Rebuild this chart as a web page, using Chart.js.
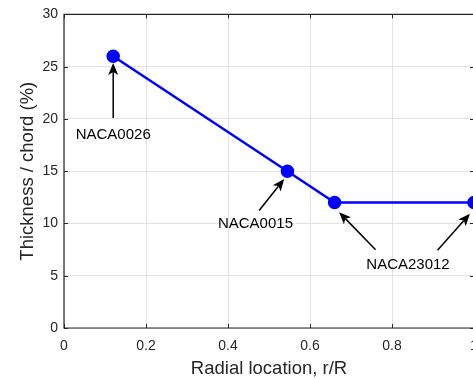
<!DOCTYPE html>
<html>
<head>
<meta charset="utf-8">
<script src="https://cdn.jsdelivr.net/npm/chart.js@4/dist/chart.umd.min.js"></script>
<style>
  html, body { margin: 0; padding: 0; background: #fff; overflow: hidden; }
  #wrap { width: 490px; height: 380px; }
</style>
</head>
<body>
<div id="wrap"><canvas id="chart" width="490" height="380"></canvas></div>
<script>
// data
const radialLocation = [0.12, 0.545, 0.66, 1.0];
const thickness = [26, 15, 12, 12];
const xTicks = [0, 0.2, 0.4, 0.6, 0.8, 1];
const yTicks = [0, 5, 10, 15, 20, 25, 30];

// annotation labels (data coordinates)
const labelText = ["NACA0026", "NACA0015", "NACA23012"];
const labelX = [0.12, 0.467, 0.839];
const labelY = [18.1, 9.52, 5.62];

// arrows: tail -> head (data coordinates)
const arrowFromX = [0.12, 0.476, 0.760, 0.911];
const arrowFromY = [20.1, 11.24, 7.49, 7.43];
const arrowToX = [0.12, 0.537, 0.671, 0.990];
const arrowToY = [25.36, 14.26, 11.08, 10.92];

const axisColor = "#262626";
const gridColor = "#e3e3e3";
const fontFamily = "'Liberation Sans', Arial, sans-serif";

function drawArrow(ctx, x1, y1, x2, y2) {
  const ang = Math.atan2(y2 - y1, x2 - x1);
  const len = 12, half = 5, back = 3;
  const c = Math.cos(ang), s = Math.sin(ang);
  const bx = x2 - len * c, by = y2 - len * s;
  const nx = x2 - (len - back) * c, ny = y2 - (len - back) * s;
  ctx.beginPath();
  ctx.moveTo(x1, y1);
  ctx.lineTo(nx, ny);
  ctx.stroke();
  ctx.beginPath();
  ctx.moveTo(x2, y2);
  ctx.lineTo(bx - half * s, by + half * c);
  ctx.lineTo(nx, ny);
  ctx.lineTo(bx + half * s, by - half * c);
  ctx.closePath();
  ctx.fill();
}

const boxPlugin = {
  id: "box",
  afterDatasetsDraw(chart) {
    const { ctx, chartArea: a, scales } = chart;
    const xs = scales.x, ys = scales.y;
    ctx.save();
    // axes box
    ctx.strokeStyle = axisColor;
    ctx.lineWidth = 1.2;
    ctx.beginPath();
    ctx.rect(a.left, a.top, a.right - a.left, a.bottom - a.top);
    ctx.stroke();
    // inward ticks
    ctx.lineWidth = 1;
    ctx.beginPath();
    xTicks.forEach(v => {
      const px = Math.round(xs.getPixelForValue(v)) + 0.5;
      ctx.moveTo(px, a.bottom); ctx.lineTo(px, a.bottom - 4);
      ctx.moveTo(px, a.top); ctx.lineTo(px, a.top + 4);
    });
    yTicks.forEach(v => {
      const py = Math.round(ys.getPixelForValue(v)) + 0.5;
      ctx.moveTo(a.left, py); ctx.lineTo(a.left + 4, py);
      ctx.moveTo(a.right, py); ctx.lineTo(a.right - 4, py);
    });
    ctx.stroke();

    // arrows
    ctx.strokeStyle = "#000";
    ctx.fillStyle = "#000";
    ctx.lineWidth = 1.5;
    arrowFromX.forEach((v, i) => {
      drawArrow(ctx,
        xs.getPixelForValue(v), ys.getPixelForValue(arrowFromY[i]),
        xs.getPixelForValue(arrowToX[i]), ys.getPixelForValue(arrowToY[i]));
    });

    // labels
    ctx.font = "15px " + fontFamily;
    ctx.textAlign = "center";
    ctx.textBaseline = "alphabetic";
    ctx.fillStyle = "#000";
    labelText.forEach((t, i) => {
      ctx.fillText(t, xs.getPixelForValue(labelX[i]), ys.getPixelForValue(labelY[i]));
    });
    ctx.restore();
  }
};

new Chart(document.getElementById("chart"), {
  type: "scatter",
  data: {
    datasets: [{
      data: radialLocation.map((x, i) => ({ x: x, y: thickness[i] })),
      showLine: true,
      borderColor: "#0000ff",
      backgroundColor: "#0000ff",
      borderWidth: 2.5,
      pointRadius: 5.5,
      pointHoverRadius: 5.5,
      clip: false
    }]
  },
  plugins: [boxPlugin],
  options: {
    responsive: false,
    animation: false,
    events: [],
    layout: { padding: { top: 13, right: 16, left: 0, bottom: 0 } },
    plugins: { legend: { display: false }, tooltip: { enabled: false } },
    scales: {
      x: {
        type: "linear",
        min: 0, max: 1,
        afterFit: s => { s.height = 52; },
        afterBuildTicks: s => { s.ticks = xTicks.map(v => ({ value: v })); },
        border: { display: false },
        grid: { color: gridColor, drawTicks: false, lineWidth: 1 },
        ticks: {
          color: axisColor, padding: 10, maxRotation: 0,
          font: { family: fontFamily, size: 14 },
          callback: v => String(Number(v.toFixed(1)))
        },
        title: {
          display: true, text: "Radial location, r/R", color: axisColor,
          font: { family: fontFamily, size: 18.5 }, padding: { top: 2, bottom: 0 }
        }
      },
      y: {
        min: 0, max: 30,
        afterFit: s => { s.width = 64; },
        afterBuildTicks: s => { s.ticks = yTicks.map(v => ({ value: v })); },
        border: { display: false },
        grid: { color: gridColor, drawTicks: false, lineWidth: 1 },
        ticks: {
          color: axisColor, padding: 6,
          font: { family: fontFamily, size: 14 }
        },
        title: {
          display: true, text: "Thickness / chord (%)", color: axisColor,
          font: { family: fontFamily, size: 18.5 }, padding: { top: 17, bottom: 0 }
        }
      }
    }
  }
});
</script>
</body>
</html>
